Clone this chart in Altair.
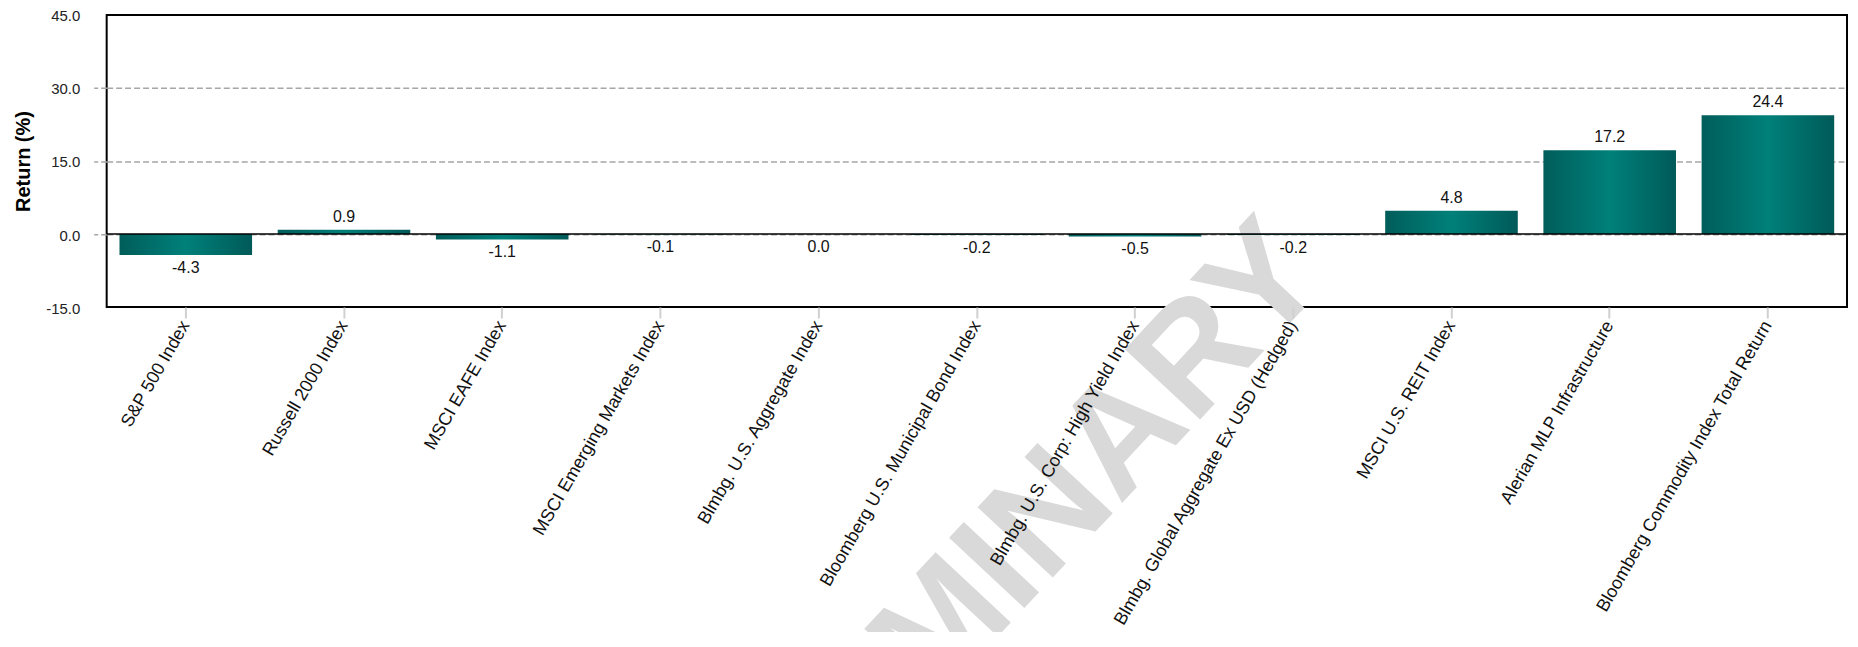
import altair as alt
import pandas as pd

categories = [
    "S&P 500 Index",
    "Russell 2000 Index",
    "MSCI EAFE Index",
    "MSCI Emerging Markets Index",
    "Blmbg. U.S. Aggregate Index",
    "Bloomberg U.S. Municipal Bond Index",
    "Blmbg. U.S. Corp: High Yield Index",
    "Blmbg. Global Aggregate Ex USD (Hedged)",
    "MSCI U.S. REIT Index",
    "Alerian MLP Infrastructure",
    "Bloomberg Commodity Index Total Return",
]
returns = [-4.3, 0.9, -1.1, -0.1, 0.0, -0.2, -0.5, -0.2, 4.8, 17.2, 24.4]
y_ticks = [-15, 0, 15, 30, 45]
watermark = ["PRELIMINARY"]

FONT = "Liberation Sans"

df = pd.DataFrame({"index": categories, "ret": returns})

teal = alt.Gradient(
    gradient="linear",
    stops=[
        alt.GradientStop(offset=0, color="#005d5a"),
        alt.GradientStop(offset=0.5, color="#00807a"),
        alt.GradientStop(offset=1, color="#005a58"),
    ],
    x1=0, x2=1, y1=0, y2=0,
)

edge_test = "datum.value == 45 || datum.value == -15"

x_enc = alt.X(
    "index:N",
    sort=None,
    scale=alt.Scale(paddingInner=0.162, paddingOuter=0.081),
    axis=alt.Axis(
        title=None,
        labelAngle=-60,
        labelAlign="right",
        labelBaseline="middle",
        labelFontSize=18,
        labelColor="#111111",
        labelLimit=500,
        labelPadding=4,
        tickSize=11,
        tickColor="#d0d0d0",
        tickWidth=2,
        domain=False,
        grid=False,
        zindex=2,
    ),
)
y_enc = alt.Y(
    "ret:Q",
    scale=alt.Scale(domain=[-15, 45], nice=False, zero=False),
    axis=alt.Axis(
        title="Return (%)",
        titleFontSize=20,
        titleFontWeight="bold",
        titleColor="#000000",
        titlePadding=12,
        values=y_ticks,
        labelExpr="replace(format(datum.value, '.1f'), '\u2212', '-')",
        labelFontSize=15,
        labelColor="#222222",
        labelPadding=14,
        labelOffset=1,
        tickSize=13,
        tickColor="#a6a6a6",
        tickDash=[6, 3],
        tickWidth=1.5,
        tickOpacity=alt.condition(edge_test, alt.value(0), alt.value(1)),
        grid=True,
        gridColor="#a6a6a6",
        gridDash=[6, 3],
        gridWidth=1.5,
        gridOpacity=alt.condition(edge_test, alt.value(0), alt.value(1)),
        domain=False,
    ),
)

base = alt.Chart(df)

wm = alt.Chart(pd.DataFrame({"t": watermark})).mark_text(
    font=FONT,
    fontSize=150,
    fontWeight="bold",
    color="#d9d9d9",
    angle=313,
    align="center",
    baseline="middle",
).encode(text="t:N", x=alt.value(845), y=alt.value(610))

bars = base.mark_bar(color=teal).encode(x=x_enc, y=y_enc)

zero = alt.Chart(pd.DataFrame({"z": [0]})).mark_rule(
    color="#000000", strokeWidth=1.5
).encode(y="z:Q")

lbl_expr = "replace(format(datum.ret, '.1f'), '\u2212', '-')"

pos_lbl = base.transform_filter("datum.ret > 0").transform_calculate(
    lbl=lbl_expr
).mark_text(
    font=FONT, fontSize=16, color="#111111", baseline="bottom", dy=-5
).encode(x=alt.X("index:N", sort=None), y="ret:Q", text="lbl:N")

neg_lbl = base.transform_filter("datum.ret <= 0").transform_calculate(
    lbl=lbl_expr
).mark_text(
    font=FONT, fontSize=16, color="#111111", baseline="top", dy=5
).encode(x=alt.X("index:N", sort=None), y="ret:Q", text="lbl:N")

chart = (
    alt.layer(wm, bars, zero, pos_lbl, neg_lbl)
    .properties(
        width=1746,
        height=293,
        autosize=alt.AutoSizeParams(type="none"),
        padding={"left": 99, "top": 6, "right": 3, "bottom": 325},
    )
    .configure_view(stroke="#000000", strokeWidth=2)
    .configure_axis(labelFont=FONT, titleFont=FONT)
    .configure_text(font=FONT)
)

chart.save("out.html", embed_options={"renderer": "svg", "actions": False})
